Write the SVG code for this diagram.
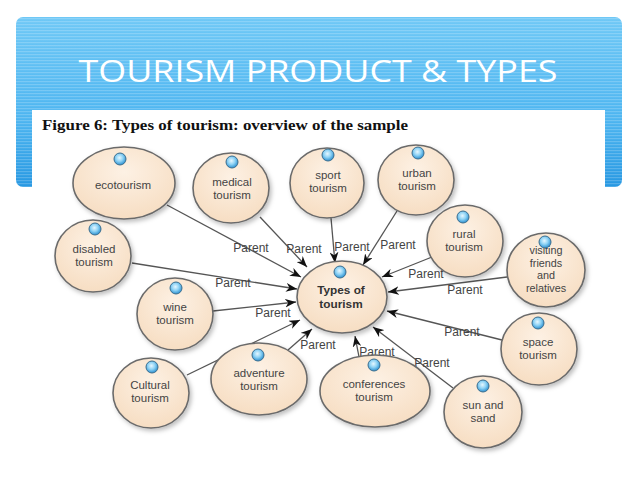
<svg xmlns="http://www.w3.org/2000/svg" width="638" height="479" viewBox="0 0 638 479">
<defs>
<linearGradient id="bannerGrad" x1="0" y1="0" x2="0" y2="1">
<stop offset="0" stop-color="#6fc8f6"/>
<stop offset="0.6" stop-color="#4db5f0"/>
<stop offset="1" stop-color="#2798e2"/>
</linearGradient>
<pattern id="stripes" width="8" height="3" patternUnits="userSpaceOnUse">
<rect width="8" height="1.2" fill="#ffffff" fill-opacity="0.2"/>
</pattern>
<radialGradient id="nodeGrad" cx="0.5" cy="0.35" r="0.7">
<stop offset="0" stop-color="#fdf1e4"/>
<stop offset="1" stop-color="#f6dcc0"/>
</radialGradient>
<radialGradient id="dotGrad" cx="0.45" cy="0.4" r="0.6">
<stop offset="0" stop-color="#e6f7ff"/>
<stop offset="0.5" stop-color="#8fd3f5"/>
<stop offset="1" stop-color="#2b8fd0"/>
</radialGradient>
<filter id="shadow" x="-20%" y="-20%" width="150%" height="150%">
<feDropShadow dx="2" dy="2.5" stdDeviation="2" flood-color="#000" flood-opacity="0.25"/>
</filter>
<marker id="arrow" viewBox="0 0 10 8" refX="10" refY="4" markerWidth="11" markerHeight="9" markerUnits="userSpaceOnUse" orient="auto">
<path d="M0,0 L10,4 L0,8 L3,4 z" fill="#111"/>
</marker>
</defs>
<style>
.title{font-family:"Open Sans","Liberation Sans",sans-serif;font-weight:400;font-size:31px;fill:#ffffff}
.caption{font-family:"Liberation Serif",serif;font-weight:bold;font-size:14px;fill:#111}
.node ellipse.body{fill:url(#nodeGrad);stroke:#6b6b6b;stroke-width:1.6;filter:url(#shadow)}
.node circle{fill:url(#dotGrad);stroke:#3d6f8f;stroke-width:1}
.node text{font-family:"Liberation Sans",Arial,sans-serif;font-size:11.5px;fill:#444;text-anchor:middle}
.node text.small{font-size:10.8px}
.node text.bold{font-weight:bold;font-size:11.8px;fill:#333}
.conn line{stroke:#555;stroke-width:1.3;marker-end:url(#arrow)}
.conn text{font-family:"Liberation Sans",Arial,sans-serif;font-size:12px;fill:#444;text-anchor:middle}
</style>
<rect width="638" height="479" fill="#ffffff"/>
<g id="banner">
<rect x="16" y="17" width="606" height="170" rx="7" fill="url(#bannerGrad)"/>
<rect x="16" y="17" width="606" height="170" rx="7" fill="url(#stripes)"/>
<text class="title" x="318" y="82" text-anchor="middle" textLength="479" lengthAdjust="spacingAndGlyphs">TOURISM PRODUCT &amp; TYPES</text>
<rect x="32" y="110" width="573" height="369" fill="#ffffff"/>
<text class="caption" x="42" y="130" textLength="366" lengthAdjust="spacingAndGlyphs">Figure 6: Types of tourism: overview of the sample</text>
</g>
<g id="connectors" class="conn">
<line x1="167" y1="205" x2="301" y2="277"/>
<line x1="260" y1="217" x2="307" y2="267"/>
<line x1="331" y1="218" x2="335" y2="263"/>
<line x1="397" y1="211" x2="363" y2="265"/>
<line x1="432" y1="257" x2="382" y2="277"/>
<line x1="507" y1="277" x2="388" y2="292"/>
<line x1="502" y1="340" x2="387" y2="311"/>
<line x1="453" y1="388" x2="373" y2="327"/>
<line x1="359" y1="357" x2="355" y2="336"/>
<line x1="288" y1="350" x2="312" y2="329"/>
<line x1="187" y1="375" x2="300" y2="320"/>
<line x1="213" y1="311" x2="296" y2="302"/>
<line x1="132" y1="263" x2="297" y2="289"/>
<text x="251" y="252">Parent</text>
<text x="304" y="253">Parent</text>
<text x="352" y="251">Parent</text>
<text x="398" y="249">Parent</text>
<text x="426" y="278">Parent</text>
<text x="465" y="294">Parent</text>
<text x="233" y="287">Parent</text>
<text x="273" y="317">Parent</text>
<text x="318" y="349">Parent</text>
<text x="377" y="356">Parent</text>
<text x="432" y="367">Parent</text>
<text x="462" y="336">Parent</text>
</g>
<g id="ecotourism" class="node">
<ellipse class="body" cx="124" cy="183" rx="51" ry="36"/>
<circle cx="120" cy="159" r="6"/>
<text x="123" y="189">ecotourism</text>
</g>
<g id="medical" class="node">
<ellipse class="body" cx="231" cy="188" rx="38" ry="35"/>
<circle cx="232" cy="162" r="6"/>
<text x="232" y="186">medical</text>
<text x="232" y="199">tourism</text>
</g>
<g id="sport" class="node">
<ellipse class="body" cx="327" cy="183" rx="37" ry="35"/>
<circle cx="328" cy="155" r="6"/>
<text x="328" y="179">sport</text>
<text x="328" y="192">tourism</text>
</g>
<g id="urban" class="node">
<ellipse class="body" cx="416" cy="180" rx="38" ry="35"/>
<circle cx="418" cy="153" r="6"/>
<text x="417" y="177">urban</text>
<text x="417" y="190">tourism</text>
</g>
<g id="rural" class="node">
<ellipse class="body" cx="465" cy="241" rx="38" ry="36"/>
<circle cx="463" cy="217" r="6"/>
<text x="464" y="238">rural</text>
<text x="464" y="251">tourism</text>
</g>
<g id="visiting" class="node">
<ellipse class="body" cx="546" cy="270" rx="39" ry="37"/>
<text class="small" x="546" y="254">visiting</text>
<text class="small" x="546" y="266.5">friends</text>
<text class="small" x="546" y="279">and</text>
<text class="small" x="546" y="291.5">relatives</text>
<circle cx="545" cy="242" r="6"/>
</g>
<g id="types" class="node">
<ellipse class="body" cx="342" cy="297" rx="45" ry="36"/>
<circle cx="340" cy="272" r="6"/>
<text class="bold" x="341" y="294">Types of</text>
<text class="bold" x="341" y="308">tourism</text>
</g>
<g id="disabled" class="node">
<ellipse class="body" cx="93" cy="256" rx="38" ry="36"/>
<circle cx="95" cy="229" r="6"/>
<text x="94" y="253">disabled</text>
<text x="94" y="266">tourism</text>
</g>
<g id="wine" class="node">
<ellipse class="body" cx="175" cy="314" rx="38" ry="36"/>
<circle cx="176" cy="288" r="6"/>
<text x="175" y="311">wine</text>
<text x="175" y="324">tourism</text>
</g>
<g id="cultural" class="node">
<ellipse class="body" cx="151" cy="393" rx="38" ry="35"/>
<circle cx="152" cy="367" r="6"/>
<text x="150" y="389">Cultural</text>
<text x="150" y="402">tourism</text>
</g>
<g id="adventure" class="node">
<ellipse class="body" cx="259" cy="379" rx="48" ry="36"/>
<circle cx="258" cy="355" r="6"/>
<text x="259" y="377">adventure</text>
<text x="259" y="390">tourism</text>
</g>
<g id="conferences" class="node">
<ellipse class="body" cx="375" cy="391" rx="55" ry="36"/>
<circle cx="374" cy="365" r="6"/>
<text x="374" y="388">conferences</text>
<text x="374" y="401">tourism</text>
</g>
<g id="sunsand" class="node">
<ellipse class="body" cx="483" cy="412" rx="39" ry="36"/>
<circle cx="483" cy="386" r="6"/>
<text x="483" y="409">sun and</text>
<text x="483" y="422">sand</text>
</g>
<g id="space" class="node">
<ellipse class="body" cx="539" cy="349" rx="38" ry="36"/>
<circle cx="538" cy="323" r="6"/>
<text x="538" y="346">space</text>
<text x="538" y="359">tourism</text>
</g>
</svg>
